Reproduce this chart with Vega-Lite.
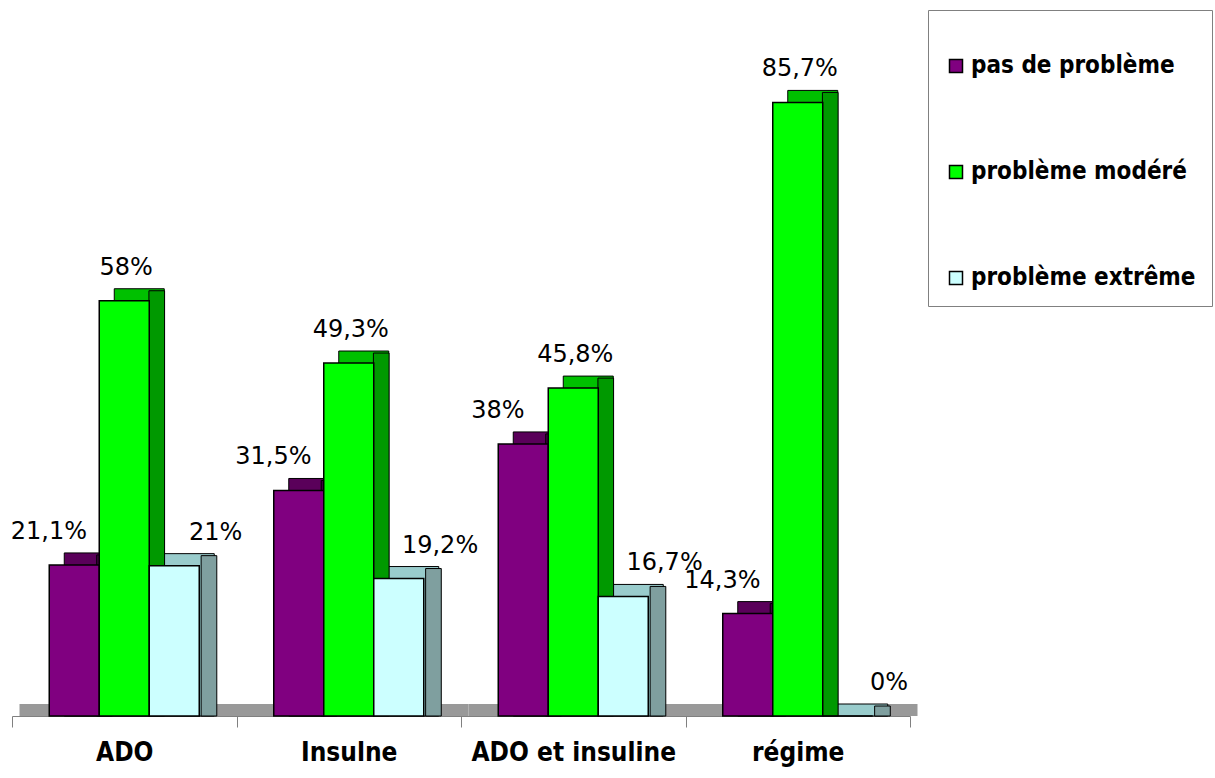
{
  "$schema": "https://vega.github.io/schema/vega-lite/v6.json",
  "width": 898,
  "height": 700,
  "autosize": {"type": "none"},
  "padding": {"left": 12, "top": 16, "right": 305, "bottom": 62},
  "background": "white",
  "config": {
    "view": {"stroke": null},
    "font": "DejaVu Sans",
    "locale": {"number": {"decimal": ",", "thousands": " ", "grouping": [3], "currency": ["", " €"]}}
  },
  "datasets": {
    "bars": [
      {"cat": "ADO", "serie": "pas de problème", "value": 21.1},
      {"cat": "ADO", "serie": "problème modéré", "value": 58},
      {"cat": "ADO", "serie": "problème extrême", "value": 21},
      {"cat": "Insulne", "serie": "pas de problème", "value": 31.5},
      {"cat": "Insulne", "serie": "problème modéré", "value": 49.3},
      {"cat": "Insulne", "serie": "problème extrême", "value": 19.2},
      {"cat": "ADO et insuline", "serie": "pas de problème", "value": 38},
      {"cat": "ADO et insuline", "serie": "problème modéré", "value": 45.8},
      {"cat": "ADO et insuline", "serie": "problème extrême", "value": 16.7},
      {"cat": "régime", "serie": "pas de problème", "value": 14.3},
      {"cat": "régime", "serie": "problème modéré", "value": 85.7},
      {"cat": "régime", "serie": "problème extrême", "value": 0}
    ],
    "cats": [
      {"cat": "ADO"}, {"cat": "Insulne"}, {"cat": "ADO et insuline"}, {"cat": "régime"}
    ]
  },
  "resolve": {"scale": {"xOffset": "independent", "color": "independent"}, "legend": {"color": "independent"}},
  "layer": [
    {
      "data": {"name": "cats"},
      "mark": {"type": "bar", "color": "#999999", "width": {"band": 1}, "xOffset": 7.5, "yOffset": -12},
      "encoding": {
        "x": {"field": "cat", "type": "nominal", "sort": ["ADO", "Insulne", "ADO et insuline", "régime"],
          "scale": {"paddingInner": 0, "paddingOuter": 0},
          "axis": {"title": null, "labelFontSize": 26, "labelFontWeight": "bold", "labelColor": "black", "labelAngle": 0,
            "labelFont": "DejaVu Sans Condensed, DejaVu Sans", "labelLimit": 0,
            "domainColor": "#808080", "tickColor": "#808080", "tickSize": 11, "tickBand": "extent", "labelPadding": 12}},
        "y": {"datum": 0, "type": "quantitative", "scale": {"domain": [0, 97.77], "nice": false, "zero": true}, "axis": null},
        "y2": {"datum": 0}
      }
    },
    {
      "data": {"name": "bars"},
      "mark": {"type": "bar", "yOffset": -12, "stroke": "black", "strokeWidth": 1},
      "encoding": {
        "x": {"field": "cat", "type": "nominal", "sort": ["ADO", "Insulne", "ADO et insuline", "régime"]},
        "xOffset": {"field": "serie", "type": "nominal", "scale": {"domain": ["pas de problème", "problème modéré", "problème extrême"], "range": [15, 239.5], "paddingInner": 0, "paddingOuter": 0.745}},
        "y": {"field": "value", "type": "quantitative"},
        "y2": {"datum": 0},
        "color": {"field": "serie", "type": "nominal", "scale": {"domain": ["pas de problème", "problème modéré", "problème extrême"], "range": ["#5a005a", "#00c000", "#99cccc"]}, "legend": null}
      }
    },
    {
      "data": {"name": "bars"},
      "mark": {"type": "bar", "yOffset": -10, "stroke": "black", "strokeWidth": 1},
      "encoding": {
        "x": {"field": "cat", "type": "nominal", "sort": ["ADO", "Insulne", "ADO et insuline", "régime"]},
        "xOffset": {"field": "serie", "type": "nominal", "scale": {"domain": ["pas de problème", "problème modéré", "problème extrême"], "range": [32.5, 257], "paddingInner": 0.7, "paddingOuter": 1.095}},
        "y": {"field": "value", "type": "quantitative"},
        "y2": {"datum": 0},
        "color": {"field": "serie", "type": "nominal", "scale": {"domain": ["pas de problème", "problème modéré", "problème extrême"], "range": ["#400040", "#009900", "#7f9f9f"]}, "legend": null}
      }
    },
    {
      "data": {"name": "bars"},
      "mark": {"type": "bar", "stroke": "black", "strokeWidth": 1.5},
      "encoding": {
        "x": {"field": "cat", "type": "nominal", "sort": ["ADO", "Insulne", "ADO et insuline", "régime"]},
        "xOffset": {"field": "serie", "type": "nominal", "scale": {"domain": ["pas de problème", "problème modéré", "problème extrême"], "paddingInner": 0, "paddingOuter": 0.745}},
        "y": {"field": "value", "type": "quantitative"},
        "y2": {"datum": 0},
        "color": {"field": "serie", "type": "nominal", "scale": {"domain": ["pas de problème", "problème modéré", "problème extrême"], "range": ["#800080", "#00ff00", "#ccffff"]},
          "legend": {"orient": "none", "legendX": 916, "legendY": -6, "title": " ", "titleFontSize": 12, "titlePadding": 16,
            "strokeColor": "#808080", "fillColor": "white",
            "padding": 16, "rowPadding": 82, "labelFontSize": 24, "labelFontWeight": "bold", "labelFont": "DejaVu Sans Condensed, DejaVu Sans", "labelColor": "black",
            "symbolType": "square", "symbolSize": 169, "symbolStrokeColor": "black", "symbolStrokeWidth": 1.5, "labelOffset": 3, "labelLimit": 400}}
      }
    },
    {
      "data": {"name": "bars"},
      "transform": [
        {"filter": "datum.serie === 'pas de problème'"},
        {"calculate": "format(datum.value, '.1~f') + '%'", "as": "label"}
      ],
      "mark": {"type": "text", "fontSize": 24, "dx": -11, "dy": -26, "baseline": "alphabetic", "align": "center", "color": "black"},
      "encoding": {
        "x": {"field": "cat", "type": "nominal", "sort": ["ADO", "Insulne", "ADO et insuline", "régime"]},
        "xOffset": {"field": "serie", "type": "nominal", "scale": {"domain": ["pas de problème", "problème modéré", "problème extrême"], "paddingInner": 0, "paddingOuter": 0.745}},
        "y": {"field": "value", "type": "quantitative"},
        "text": {"field": "label"}
      }
    },
    {
      "data": {"name": "bars"},
      "transform": [
        {"filter": "datum.serie === 'problème modéré'"},
        {"calculate": "format(datum.value, '.1~f') + '%'", "as": "label"}
      ],
      "mark": {"type": "text", "fontSize": 24, "dx": 2, "dy": -26, "baseline": "alphabetic", "align": "center", "color": "black"},
      "encoding": {
        "x": {"field": "cat", "type": "nominal", "sort": ["ADO", "Insulne", "ADO et insuline", "régime"]},
        "xOffset": {"field": "serie", "type": "nominal", "scale": {"domain": ["pas de problème", "problème modéré", "problème extrême"], "paddingInner": 0, "paddingOuter": 0.745}},
        "y": {"field": "value", "type": "quantitative"},
        "text": {"field": "label"}
      }
    },
    {
      "data": {"name": "bars"},
      "transform": [
        {"filter": "datum.serie === 'problème extrême'"},
        {"calculate": "format(datum.value, '.1~f') + '%'", "as": "label"}
      ],
      "mark": {"type": "text", "fontSize": 24, "dx": 27, "dy": -26, "baseline": "alphabetic", "align": "center", "color": "black"},
      "encoding": {
        "x": {"field": "cat", "type": "nominal", "sort": ["ADO", "Insulne", "ADO et insuline", "régime"]},
        "xOffset": {"field": "serie", "type": "nominal", "scale": {"domain": ["pas de problème", "problème modéré", "problème extrême"], "paddingInner": 0, "paddingOuter": 0.745}},
        "y": {"field": "value", "type": "quantitative"},
        "text": {"field": "label"}
      }
    }
  ]
}
